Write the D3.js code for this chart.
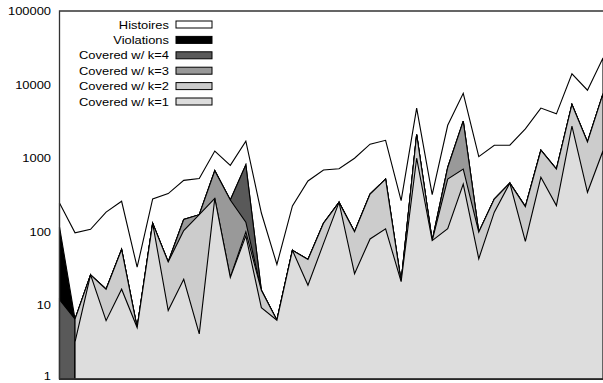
<!DOCTYPE html>
<html>
<head>
<meta charset="utf-8">
<script src="https://cdn.jsdelivr.net/npm/d3@7"></script>
<style>
  body { margin: 0; background: #fff; }
  text { font-family: "Liberation Sans", Arial, sans-serif; font-size: 10.5px; fill: #000; }
</style>
</head>
<body>
<div id="chart"></div>
<script>
// Controlling Constant
const svgWidth = 603,
  svgHeight = 383;
const plot = { left: 59.5, right: 603, top: 11, bottom: 379 };
const stretch = 1.23; // the text in the reference is wider than it is tall

// one value per run, null = nothing to draw
const histoires = [246, 97, 108, 185, 260, 33, 280, 330, 500, 530, 1250, 800, 1700, 180, 36, 225, 490, 690,
  720, 1000, 1550, 1750, 265, 4800, 320, 2800, 7600, 1050, 1500, 1500, 2500, 4800, 4000, 14000, 8400, 23000];
const violations = [117, 6.5, 26, 16.6, 57.6, 5, 130, 39, 147, 171, 676, 270, 812, 16, 6.3, 56, 42, 131,
  251, 100, 325, 520, 21, 2100, 76, 748, 3190, 99, 279, 459, 220, 1282, 710, 5370, 1660, 7500];
const coveredK4 = [12, 6.5, 26, 16.6, 57.6, 5, 130, 39, 147, 171, 676, 270, 812, 16, 6.3, 56, 42, 131,
  251, 100, 325, 520, 21, 2100, 76, 748, 3190, 99, 279, 459, 220, 1282, 710, 5370, 1660, 7500];
const coveredK3 = [null, 6.5, 26, 16.6, 57.6, 5, 130, 39, 147, 171, 676, 270, 135, 16, 6.3, 56, 42, 131,
  251, 100, 325, 520, 21, 2100, 76, 748, 3190, 99, 279, 459, 220, 1282, 710, 5370, 1660, 7500];
const coveredK2 = [null, 6.5, 26, 16.6, 57.6, 5, 130, 39, 104, 171, 285, 24, 100, 16, 6.3, 56, 42, 131,
  251, 100, 325, 520, 21, 2100, 76, 520, 710, 99, 279, 459, 220, 1282, 710, 5370, 1660, 7500];
const coveredK1 = [null, 3.2, 26, 6.2, 16.6, 5, 130, 8.5, 22.6, 4.1, 285, 24, 88, 9.3, 6.3, 56, 18.8, 69,
  251, 27, 80, 110, 21, 1000, 76, 110, 445, 43, 185, 459, 74, 550, 227, 2730, 344, 1260];

const yTicks = [1, 10, 100, 1000, 10000, 100000];

const series = [
  { name: "Histoires", values: histoires, color: "#ffffff" },
  { name: "Violations", values: violations, color: "#000000" },
  { name: "Covered w/ k=4", values: coveredK4, color: "#595959" },
  { name: "Covered w/ k=3", values: coveredK3, color: "#999999" },
  { name: "Covered w/ k=2", values: coveredK2, color: "#cccccc" },
  { name: "Covered w/ k=1", values: coveredK1, color: "#dddddd" },
];

const svg = d3
  .select("#chart")
  .append("svg")
  .attr("width", svgWidth)
  .attr("height", svgHeight);

const x = d3
  .scaleLinear()
  .domain([0, histoires.length - 1])
  .range([plot.left, plot.right]);
const y = d3.scaleLog().domain([1, 100000]).range([plot.bottom, plot.top]);

// Show the areas, biggest first so the smaller ones sit on top
const area = d3
  .area()
  .defined((d) => d != null)
  .x((d, i) => x(i))
  .y0(y(1))
  .y1((d) => y(d));

svg
  .selectAll("path.layer")
  .data(series)
  .enter()
  .append("path")
  .attr("class", "layer")
  .attr("d", (d) => area(d.values))
  .attr("fill", (d) => d.color)
  .attr("stroke", "#000")
  .attr("stroke-width", 1.1)
  .attr("stroke-linejoin", "miter");

// frame
svg
  .append("path")
  .attr("d", `M${plot.right + 1},${plot.top}H${plot.left}V${plot.bottom}H${plot.right + 1}`)
  .attr("fill", "none")
  .attr("stroke", "#333")
  .attr("stroke-width", 1.3);

// Y labels (the bottom one is nudged up so it stays inside the picture)
svg
  .selectAll("text.ytick")
  .data(yTicks)
  .enter()
  .append("text")
  .attr("class", "ytick")
  .attr("text-anchor", "end")
  .attr("dominant-baseline", "central")
  .attr("transform", (d) => `translate(51,${Math.min(y(d), 376)}) scale(${stretch},1)`)
  .text((d) => d);

// legend
const legend = svg
  .selectAll("g.legend")
  .data(series)
  .enter()
  .append("g")
  .attr("class", "legend")
  .attr("transform", (d, i) => `translate(0,${24.5 + i * 15.4})`);

legend
  .append("text")
  .attr("text-anchor", "end")
  .attr("dominant-baseline", "central")
  .attr("transform", `translate(169,0) scale(${stretch},1)`)
  .text((d) => d.name);

legend
  .append("rect")
  .attr("x", 176)
  .attr("y", -3.5)
  .attr("width", 36)
  .attr("height", 7)
  .attr("fill", (d) => d.color)
  .attr("stroke", "#000")
  .attr("stroke-width", 1);
</script>
</body>
</html>
